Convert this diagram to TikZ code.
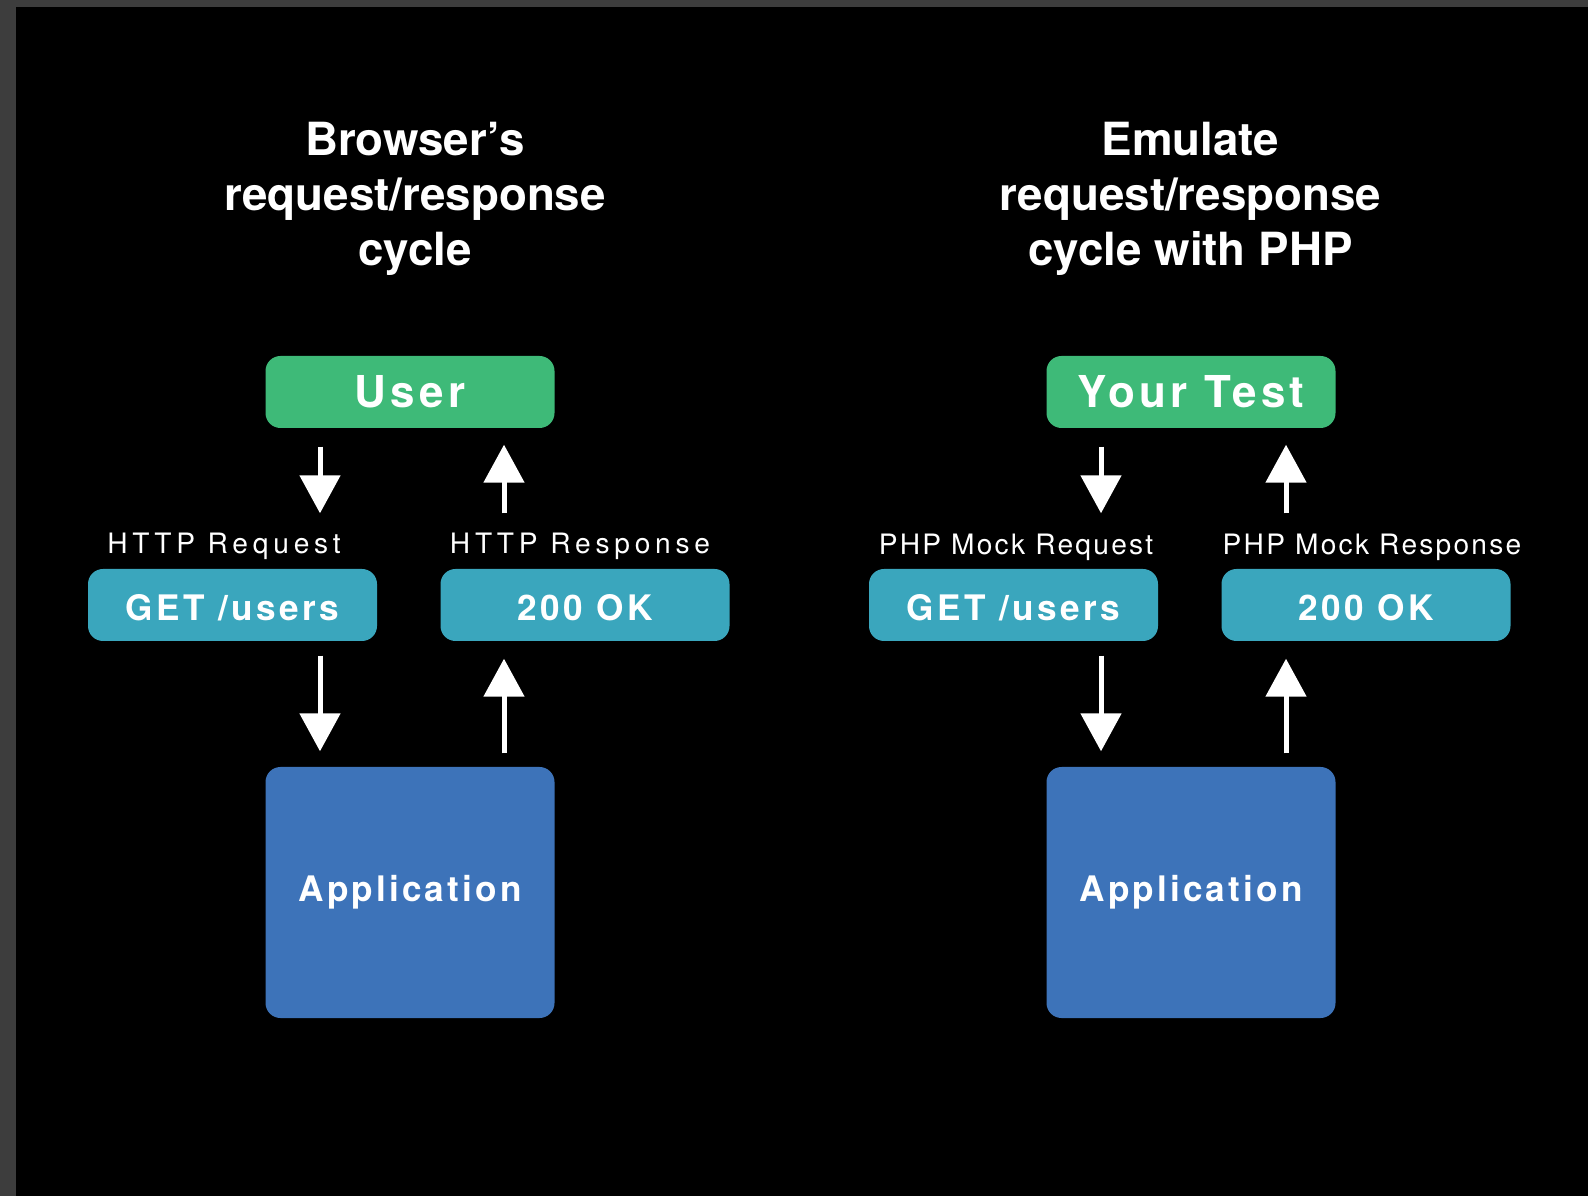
\documentclass[tikz,border=0pt]{standalone}
\usepackage{fontspec}
\setmainfont{TeX Gyre Heros}
\usetikzlibrary{arrows.meta}
\definecolor{bg_gray}{RGB}{61,61,61}
\definecolor{cyc_green}{RGB}{62,186,120}
\definecolor{cyc_teal}{RGB}{58,166,189}
\definecolor{cyc_blue}{RGB}{61,115,185}
\tikzstyle{actor}=[rectangle,rounded corners=0.15cm,fill=cyc_green,text=white,
  inner sep=0pt,minimum width=2.89cm,minimum height=0.72cm,
  font=\bfseries\fontsize{12.5}{15}\selectfont\addfontfeature{LetterSpace=10}]
\tikzstyle{msg}=[rectangle,rounded corners=0.15cm,fill=cyc_teal,text=white,
  inner sep=0pt,minimum width=2.89cm,minimum height=0.72cm,text height=0.31cm,text depth=0cm,
  font=\bfseries\fontsize{10}{12}\selectfont\addfontfeature{LetterSpace=10}]
\tikzstyle{app}=[rectangle,rounded corners=0.15cm,fill=cyc_blue,text=white,
  inner sep=0pt,minimum width=2.89cm,minimum height=2.51cm,
  font=\bfseries\fontsize{10}{12}\selectfont\addfontfeature{LetterSpace=9}]
\tikzstyle{lbl}=[text=white,inner sep=0pt,
  font=\fontsize{8}{10}\selectfont\addfontfeature{LetterSpace=17}]
\tikzstyle{lblnarrow}=[text=white,inner sep=0pt,
  font=\fontsize{8}{10}\selectfont\addfontfeature{LetterSpace=8}]
\tikzstyle{title}=[text=white,align=center,inner sep=0pt,
  font=\bfseries\fontsize{13}{15.65}\selectfont]
\tikzstyle{flow}=[white,line width=0.05cm,-{Triangle[width=0.4cm,length=0.38cm]}]
\begin{document}
\begin{tikzpicture}
        \fill [bg_gray] (0,0) rectangle (15.88,-11.96);
        \fill [black] (0.16,-0.07) rectangle (15.88,-11.96);
        \node [style=title] (tl) at (4.15,-1.99) {Browser’s\\request/response\\cycle};
        \node [style=title] (tr) at (11.905,-1.99) {Emulate\\request/response\\cycle with PHP};
        \node [style=actor] (user) at (4.10,-3.92) {User};
        \node [style=actor] (test) at (11.91,-3.92) {Your Test};
        \node [style=lbl] (reqL) at (2.24,-5.46) {HTTP Request};
        \node [style=lbl] (resL) at (5.80,-5.46) {HTTP Response};
        \node [style=lblnarrow] (reqR) at (10.16,-5.47) {PHP Mock Request};
        \node [style=lblnarrow] (resR) at (13.72,-5.47) {PHP Mock Response};
        \node [style=msg] (getL) at (2.325,-6.05) {GET /users};
        \node [style=msg] (okL) at (5.85,-6.05) {200 OK};
        \node [style=msg] (getR) at (10.135,-6.05) {GET /users};
        \node [style=msg] (okR) at (13.66,-6.05) {200 OK};
        \node [style=app] (appL) at (4.10,-8.925) {Application};
        \node [style=app] (appR) at (11.91,-8.925) {Application};
        \coordinate (dnL) at (3.20,0);
        \coordinate (upL) at (5.04,0);
        \coordinate (dnR) at (11.01,0);
        \coordinate (upR) at (12.86,0);
        \draw [style=flow,shorten <=0.18cm,shorten >=0.55cm] (user.south -| dnL) to (getL.north -| dnL);
        \draw [style=flow,shorten <=0.55cm,shorten >=0.16cm] (okL.north -| upL) to (user.south -| upL);
        \draw [style=flow,shorten <=0.14cm,shorten >=0.15cm] (getL.south -| dnL) to (appL.north -| dnL);
        \draw [style=flow,shorten <=0.13cm,shorten >=0.17cm] (appL.north -| upL) to (okL.south -| upL);
        \draw [style=flow,shorten <=0.18cm,shorten >=0.55cm] (test.south -| dnR) to (getR.north -| dnR);
        \draw [style=flow,shorten <=0.55cm,shorten >=0.16cm] (okR.north -| upR) to (test.south -| upR);
        \draw [style=flow,shorten <=0.14cm,shorten >=0.15cm] (getR.south -| dnR) to (appR.north -| dnR);
        \draw [style=flow,shorten <=0.13cm,shorten >=0.17cm] (appR.north -| upR) to (okR.south -| upR);
    \end{tikzpicture}
\end{document}
